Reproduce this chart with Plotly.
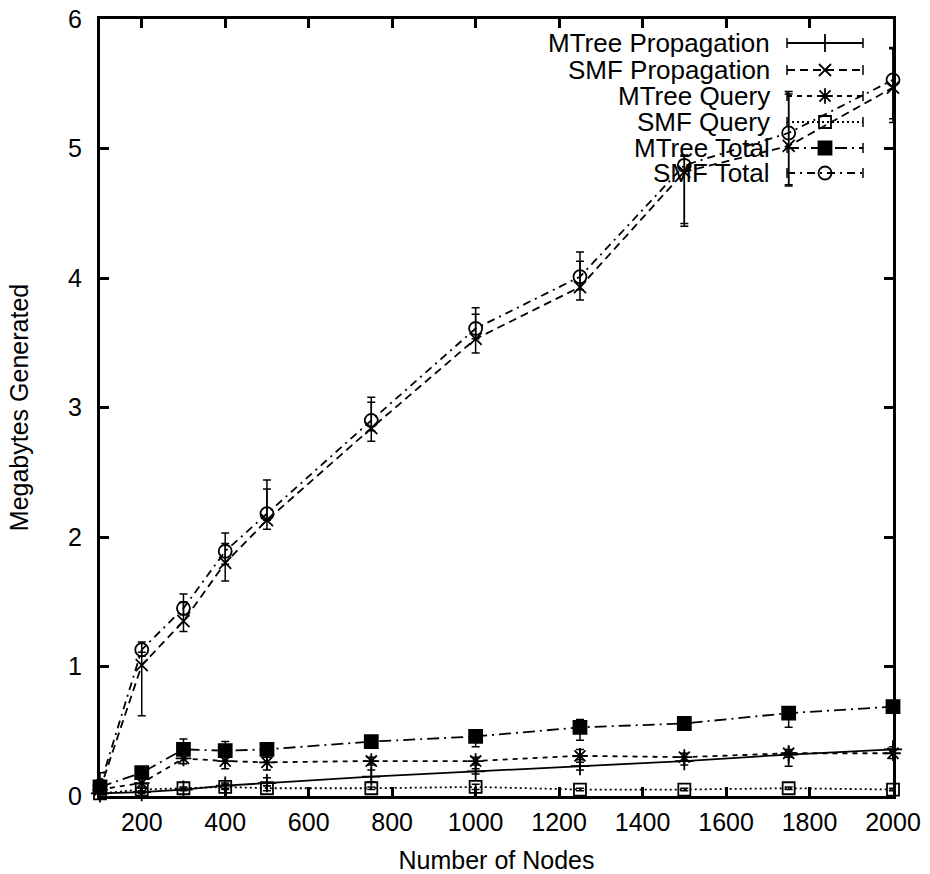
import plotly.graph_objects as go

# ---- data ----
nodes = [100, 200, 300, 400, 500, 750, 1000, 1250, 1500, 1750, 2000]

mtree_prop = [0.02, 0.03, 0.05, 0.08, 0.10, 0.15, 0.19, 0.23, 0.27, 0.32, 0.36]
mtree_prop_lo = [0.01, 0.01, 0.01, 0.02, 0.02, 0.04, 0.02, 0.03, 0.03, 0.02, 0.02]
mtree_prop_hi = [0.01, 0.01, 0.01, 0.02, 0.04, 0.05, 0.02, 0.03, 0.03, 0.02, 0.02]

smf_prop = [0.05, 1.01, 1.35, 1.80, 2.13, 2.84, 3.53, 3.93, 4.82, 5.02, 5.47]
smf_prop_lo = [0.03, 0.39, 0.08, 0.14, 0.07, 0.10, 0.11, 0.10, 0.42, 0.31, 0.27]
smf_prop_hi = [0.05, 0.10, 0.15, 0.15, 0.24, 0.20, 0.19, 0.20, 0.12, 0.42, 0.30]

mtree_query = [0.05, 0.10, 0.29, 0.27, 0.26, 0.27, 0.27, 0.31, 0.30, 0.33, 0.33]
mtree_query_lo = [0.02, 0.03, 0.04, 0.06, 0.06, 0.03, 0.03, 0.03, 0.03, 0.10, 0.04]
mtree_query_hi = [0.02, 0.03, 0.03, 0.04, 0.04, 0.03, 0.03, 0.05, 0.03, 0.03, 0.03]

smf_query = [0.02, 0.05, 0.06, 0.07, 0.06, 0.06, 0.07, 0.05, 0.05, 0.06, 0.05]
smf_query_lo = [0.01, 0.01, 0.01, 0.02, 0.02, 0.01, 0.02, 0.01, 0.01, 0.01, 0.01]
smf_query_hi = [0.01, 0.01, 0.01, 0.02, 0.02, 0.01, 0.02, 0.01, 0.01, 0.01, 0.01]

mtree_total = [0.07, 0.18, 0.36, 0.35, 0.36, 0.42, 0.46, 0.53, 0.56, 0.64, 0.69]
mtree_total_lo = [0.03, 0.03, 0.03, 0.04, 0.04, 0.04, 0.08, 0.10, 0.03, 0.11, 0.04]
mtree_total_hi = [0.03, 0.03, 0.08, 0.07, 0.04, 0.04, 0.04, 0.06, 0.03, 0.03, 0.03]

smf_total = [0.08, 1.13, 1.45, 1.89, 2.18, 2.90, 3.61, 4.01, 4.87, 5.12, 5.53]
smf_total_lo = [0.03, 0.05, 0.05, 0.10, 0.05, 0.08, 0.08, 0.10, 0.45, 0.40, 0.30]
smf_total_hi = [0.10, 0.06, 0.11, 0.14, 0.26, 0.18, 0.16, 0.19, 0.08, 0.30, 0.25]

series_names = ["MTree Propagation", "SMF Propagation", "MTree Query",
                "SMF Query", "MTree Total", "SMF Total"]

x_ticks = [200, 400, 600, 800, 1000, 1200, 1400, 1600, 1800, 2000]
y_ticks = [0, 1, 2, 3, 4, 5, 6]

# ---- styles ----
styles = [
    dict(dash="solid", symbol="cross-thin", size=13),
    dict(dash="8px,5px", symbol="x-thin", size=12),
    dict(dash="5px,5px", symbol="asterisk", size=13),
    dict(dash="2px,3px", symbol="square-open", size=12),
    dict(dash="12px,5px,2px,5px", symbol="square", size=13),
    dict(dash="8px,5px,2px,5px", symbol="circle-open", size=13),
]

series = [
    (mtree_prop, mtree_prop_lo, mtree_prop_hi),
    (smf_prop, smf_prop_lo, smf_prop_hi),
    (mtree_query, mtree_query_lo, mtree_query_hi),
    (smf_query, smf_query_lo, smf_query_hi),
    (mtree_total, mtree_total_lo, mtree_total_hi),
    (smf_total, smf_total_lo, smf_total_hi),
]

FONT = "Liberation Sans, Arial, sans-serif"

fig = go.Figure()
for name, (vals, lo, hi), st in zip(series_names, series, styles):
    fig.add_trace(go.Scatter(
        x=nodes, y=vals, name=name, mode="lines+markers",
        line=dict(color="black", width=1.8, dash=st["dash"]),
        marker=dict(symbol=st["symbol"], size=st["size"], color="black",
                    line=dict(color="black", width=1.8)),
        error_y=dict(type="data", symmetric=False, array=hi, arrayminus=lo,
                     color="black", thickness=1.5, width=4),
        cliponaxis=False, showlegend=False,
    ))

# ---- gnuplot-style key (text right-aligned, sample on the right) ----
L, R, T, B = 100, 893, 19, 796
key_rows = [43, 70, 96, 122, 148, 173]
key_x0, key_xm, key_x1, key_text = 787, 825, 863, 772
for name, st, ry in zip(series_names, styles, key_rows):
    fig.add_trace(go.Scatter(
        x=[key_x0, key_xm, key_x1], y=[ry, ry, ry], xaxis="x2", yaxis="y2",
        mode="lines", line=dict(color="black", width=1.8, dash=st["dash"]),
        hoverinfo="skip", showlegend=False))
    fig.add_trace(go.Scatter(
        x=[key_xm], y=[ry], xaxis="x2", yaxis="y2", mode="markers",
        marker=dict(symbol=st["symbol"], size=st["size"], color="black",
                    line=dict(color="black", width=1.8)),
        hoverinfo="skip", showlegend=False))
    for ex in (key_x0, key_x1):
        fig.add_shape(type="line", xref="x2", yref="y2", x0=ex, x1=ex,
                      y0=ry - 5, y1=ry + 5, line=dict(color="black", width=1.5))
    fig.add_annotation(x=key_text, y=ry, xref="x2", yref="y2", text=name,
                       showarrow=False, xanchor="right", yanchor="middle",
                       font=dict(family=FONT, size=26, color="black"))

axis_common = dict(showline=True, linewidth=3, linecolor="black", mirror="ticks",
                   ticks="inside", ticklen=9, tickwidth=2.5, tickcolor="black",
                   showgrid=False, zeroline=False, layer="below traces",
                   automargin=False,
                   tickfont=dict(family=FONT, size=25, color="black"))

fig.update_layout(
    width=930, height=874,
    margin=dict(l=L, r=930 - R, t=T, b=874 - B),
    paper_bgcolor="white", plot_bgcolor="white",
    font=dict(family=FONT, size=25, color="black"),
    showlegend=False,
    xaxis=dict(range=[100, 2000], tickvals=x_ticks, ticklabelstandoff=2,
               title=dict(text="Number of Nodes", standoff=18,
                          font=dict(family=FONT, size=25)), **axis_common),
    yaxis=dict(range=[0, 6], tickvals=y_ticks, ticklabelstandoff=10,
               title=dict(text="Megabytes Generated", standoff=33,
                          font=dict(family=FONT, size=25)), **axis_common),
    xaxis2=dict(overlaying="x", range=[L, R], visible=False),
    yaxis2=dict(overlaying="y", range=[B, T], visible=False),
)

fig.write_html("out.html")
